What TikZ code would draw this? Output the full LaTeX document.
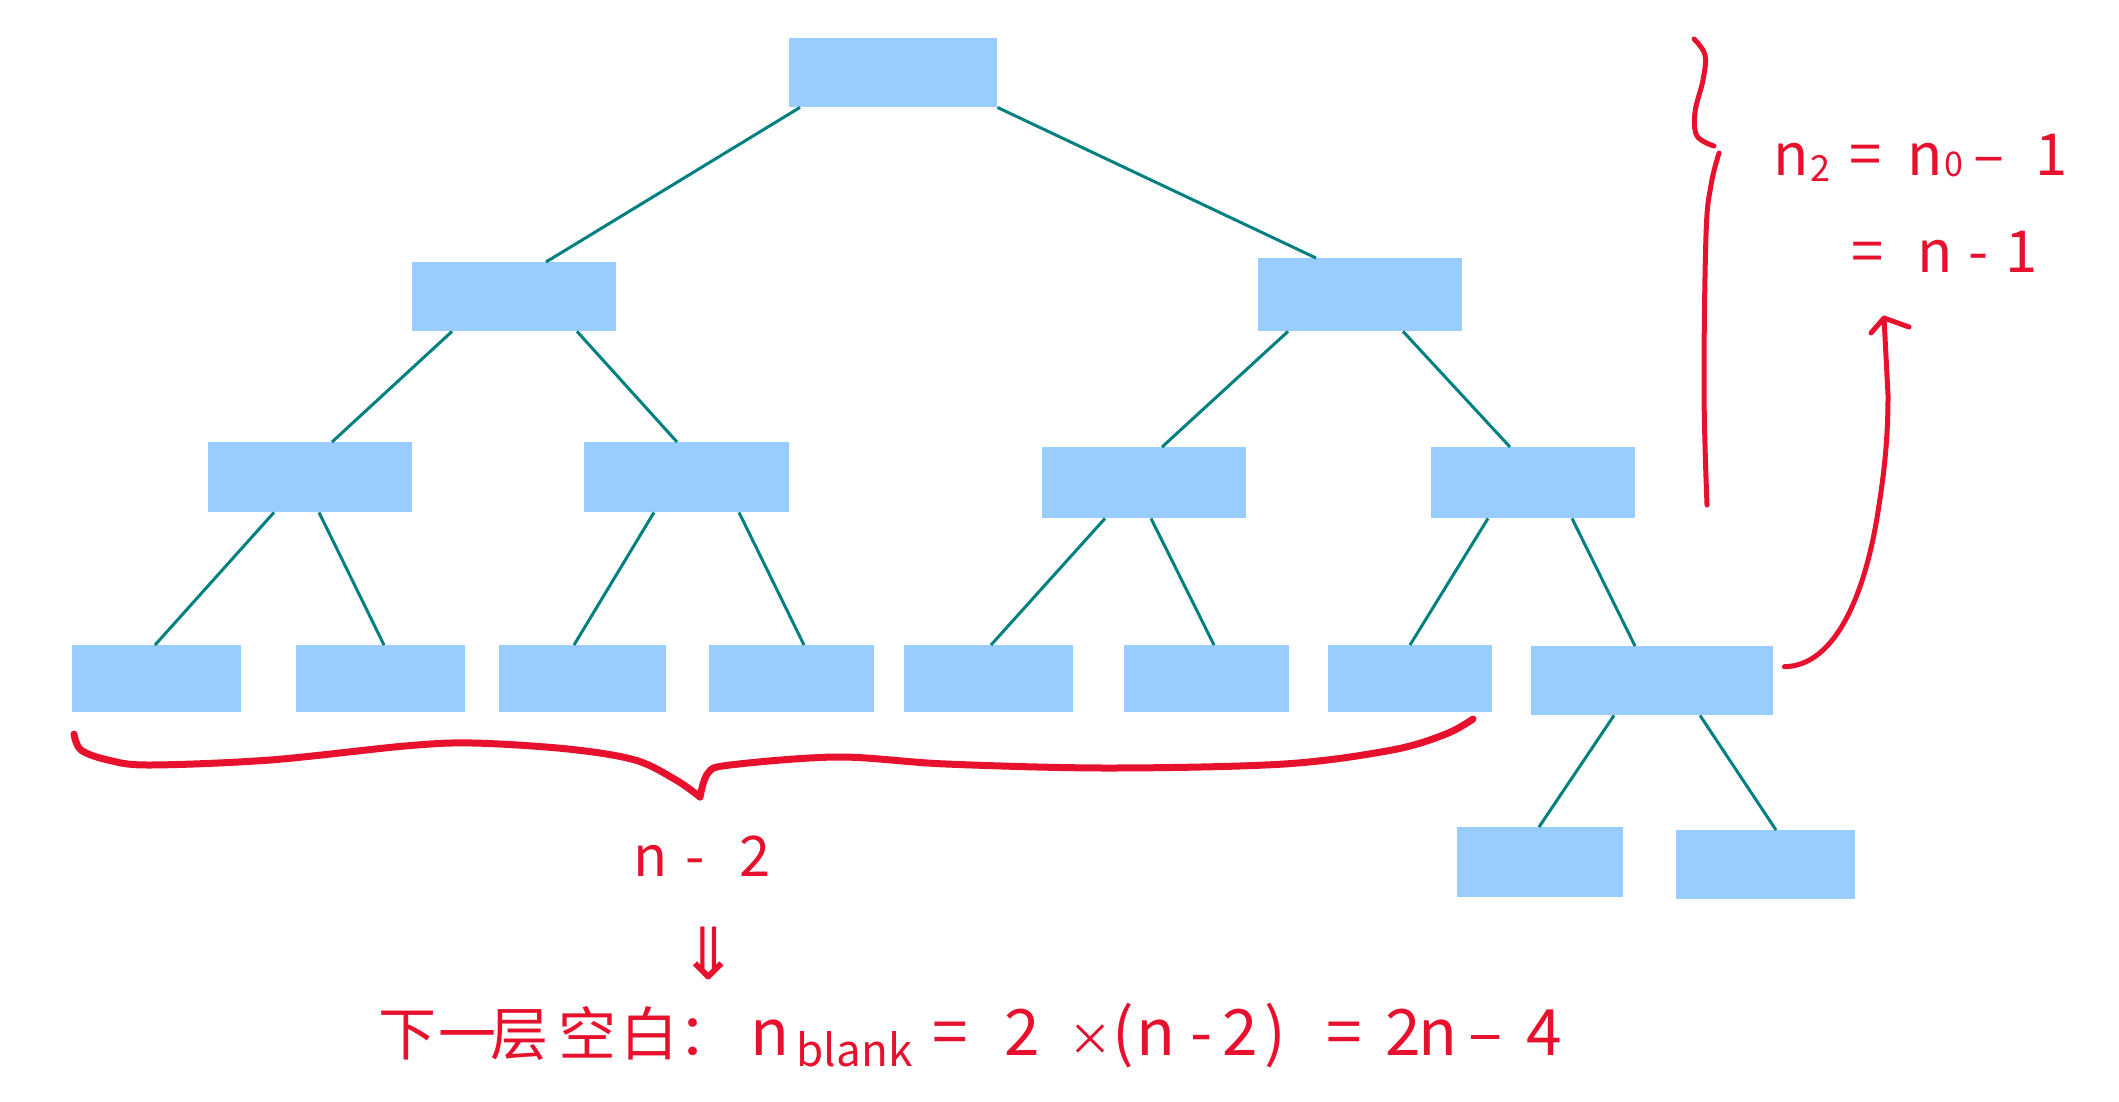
\documentclass[tikz,border=0pt]{standalone}
\usepackage{fontspec}
\newfontfamily\cjk{Noto Sans CJK SC}
\newfontfamily\symfont{DejaVu Sans}
\definecolor{boxblue}{RGB}{153,204,255}
\definecolor{edgeteal}{RGB}{0,128,128}
\definecolor{inkred}{RGB}{232,17,45}
% place a piece of a formula at a horizontal offset from the start of its line
\newcommand\putat[2]{\rlap{\hspace{#1}#2}}
\newcommand\fsz[1]{\fontsize{#1}{#1}\selectfont}
\tikzset{
  treebox/.style 2 args={fill=boxblue, draw=none, inner sep=0pt, anchor=north west,
    minimum width=#1, minimum height=#2},
  edge/.style={draw=edgeteal, line width=3pt},
  ink/.style={draw=inkred, line cap=round, line join=round},
  inktext/.style={text=inkred, inner sep=0pt, anchor=base west, font=\cjk},
}
\begin{document}
\begin{tikzpicture}[x=1pt, y=-1pt]
\useasboundingbox (0,0) rectangle (2119,1101);

% tree nodes
\node[treebox={208pt}{69pt}] (root) at (789,38) {};
\node[treebox={204pt}{69pt}] (l) at (412,262) {};
\node[treebox={204pt}{73pt}] (r) at (1258,258) {};
\node[treebox={204pt}{70pt}] (a) at (208,442) {};
\node[treebox={205pt}{70pt}] (b) at (584,442) {};
\node[treebox={204pt}{71pt}] (c) at (1042,447) {};
\node[treebox={204pt}{71pt}] (d) at (1431,447) {};
\node[treebox={169pt}{67pt}] (n1) at (72,645) {};
\node[treebox={169pt}{67pt}] (n2) at (296,645) {};
\node[treebox={167pt}{67pt}] (n3) at (499,645) {};
\node[treebox={165pt}{67pt}] (n4) at (709,645) {};
\node[treebox={169pt}{67pt}] (n5) at (904,645) {};
\node[treebox={165pt}{67pt}] (n6) at (1124,645) {};
\node[treebox={164pt}{67pt}] (n7) at (1328,645) {};
\node[treebox={242pt}{69pt}] (n8) at (1531,646) {};
\node[treebox={166pt}{70pt}] (e1) at (1457,827) {};
\node[treebox={179pt}{69pt}] (e2) at (1676,830) {};

% tree edges
\draw[edge] ([xshift=11pt]root.south west) -- ([xshift=134pt]l.north west);
\draw[edge] (root.south east) -- ([xshift=58pt]r.north west);
\draw[edge] ([xshift=40pt]l.south west) -- ([xshift=124pt]a.north west);
\draw[edge] ([xshift=165pt]l.south west) -- ([xshift=93pt]b.north west);
\draw[edge] ([xshift=30pt]r.south west) -- ([xshift=120pt]c.north west);
\draw[edge] ([xshift=145pt]r.south west) -- ([xshift=79pt]d.north west);
\draw[edge] ([xshift=66pt]a.south west) -- ([xshift=83pt]n1.north west);
\draw[edge] ([xshift=111pt]a.south west) -- ([xshift=88pt]n2.north west);
\draw[edge] ([xshift=70pt]b.south west) -- ([xshift=75pt]n3.north west);
\draw[edge] ([xshift=155pt]b.south west) -- ([xshift=95pt]n4.north west);
\draw[edge] ([xshift=63pt]c.south west) -- ([xshift=87pt]n5.north west);
\draw[edge] ([xshift=109pt]c.south west) -- ([xshift=90pt]n6.north west);
\draw[edge] ([xshift=57pt]d.south west) -- ([xshift=82pt]n7.north west);
\draw[edge] ([xshift=141pt]d.south west) -- ([xshift=104pt]n8.north west);
\draw[edge] ([xshift=83pt]n8.south west) -- ([xshift=82pt]e1.north west);
\draw[edge] ([xshift=169pt]n8.south west) -- ([xshift=100pt]e2.north west);

% brace under the bottom row
\draw[ink, line width=7pt] plot[smooth, tension=0.55] coordinates {
  (74,734) (81,750) (108,760) (149,765) (270,760) (405,746) (473,743)
  (568,749) (635,760) (676,780) (700,797)};
\draw[ink, line width=7pt] plot[smooth, tension=0.55] coordinates {
  (700,797) (708,773) (730,765) (838,757) (946,764) (1108,768)
  (1284,764) (1392,750) (1446,734) (1473,719)};

% brace on the right
\draw[ink, line width=5pt] plot[smooth, tension=0.6] coordinates {
  (1694,39) (1705,55) (1703,80) (1695,112) (1697,136) (1714,146)};
\draw[ink, line width=5pt] plot[smooth, tension=0.6] coordinates {
  (1719,153) (1711,185) (1706,235) (1704,390) (1707,505)};

% curved arrow from the last node
\coordinate (tip) at (1884,318);
\draw[ink, line width=5pt] ([xshift=11pt,yshift=14pt]n8.east)
  .. controls (1835,666) and (1866,595) .. (1879,505)
  .. controls (1887,455) and (1888,420) .. (1888,395) -- (tip);
\draw[ink, line width=5pt] (1871,333) -- (tip) -- (1909,327);

% formulas
\node[inktext] (f1) at (1773,175) {\fsz{58pt}%
  \putat{0pt}{n}%
  \putat{37pt}{\raisebox{-6pt}{\fsz{36pt}2}}%
  \putat{76pt}{=}%
  \putat{134pt}{n}%
  \putat{171pt}{\raisebox{-1pt}{\fsz{34pt}0}}%
  \putat{200pt}{–}%
  \putat{262pt}{1}};
\node[inktext] (f2) at (1853,272) {\fsz{58pt}%
  \putat{-2pt}{=}%
  \putat{64pt}{n}%
  \putat{115pt}{-}%
  \putat{152pt}{1}};
\node[inktext] (f3) at (635,876) {\fsz{56pt}%
  \putat{-2pt}{n}%
  \putat{50pt}{-}%
  \putat{104pt}{2}};
\node[text=inkred, inner sep=0pt, font=\symfont\fsz{72pt}] (f4) at (709,953) {⇓};
\node[inktext] (f5) at (378,1055) {\fsz{58pt}%
  \putat{0pt}{下}%
  \putat{60pt}{一}%
  \putat{112pt}{层}%
  \putat{180pt}{空}%
  \putat{242pt}{白}%
  \putat{300pt}{：}%
  \fsz{64pt}%
  \putat{372pt}{n}%
  \putat{418pt}{\raisebox{-11pt}{\fsz{44pt}blank}}%
  \putat{554pt}{=}%
  \putat{626pt}{2}%
  \putat{690pt}{\fsz{44pt}×}%
  \putat{734pt}{(}%
  \putat{758pt}{n}%
  \putat{812pt}{-}%
  \putat{844pt}{2}%
  \putat{886pt}{)}%
  \putat{948pt}{=}%
  \putat{1007pt}{2}%
  \putat{1040pt}{n}%
  \putat{1090pt}{–}%
  \putat{1148pt}{4}};
\end{tikzpicture}
\end{document}
